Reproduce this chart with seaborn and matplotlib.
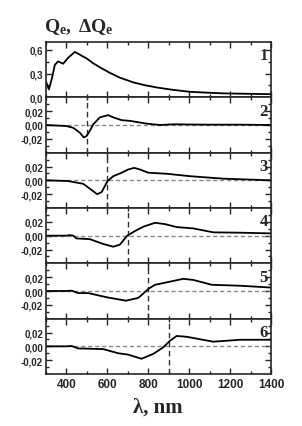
import numpy as np
import pandas as pd
import matplotlib
matplotlib.use("Agg")
import matplotlib.pyplot as plt
from matplotlib.ticker import MultipleLocator, FixedLocator, FuncFormatter
import seaborn as sns

# ---- data ----
x1 = [300, 314, 330, 343, 359, 384, 408, 441, 465, 500, 531, 570, 612, 660, 726, 780, 841, 920, 1004, 1080, 1167, 1280, 1400]
q1 = [0.20, 0.10, 0.25, 0.41, 0.455, 0.425, 0.50, 0.575, 0.54, 0.49, 0.43, 0.37, 0.31, 0.25, 0.19, 0.155, 0.125, 0.095, 0.07, 0.06, 0.05, 0.045, 0.04]

x2 = [300, 400, 433, 465, 485, 498, 515, 531, 563, 604, 629, 670, 710, 792, 857, 922, 1086, 1249, 1400]
d2 = [0.0, -0.0015, -0.004, -0.011, -0.018, -0.016, -0.008, 0.001, 0.011, 0.0143, 0.011, 0.007, 0.006, 0.002, 0.0, 0.001, 0.0005, 0.0005, 0.0]

x3 = [300, 408, 433, 482, 514, 550, 572, 601, 629, 670, 702, 731, 759, 800, 890, 1004, 1167, 1400]
d3 = [0.0, -0.001, -0.0024, -0.005, -0.012, -0.020, -0.017, -0.001, 0.006, 0.011, 0.0157, 0.018, 0.0157, 0.011, 0.0095, 0.006, 0.0024, 0.0]

x4 = [300, 400, 416, 433, 449, 514, 580, 629, 661, 697, 735, 776, 833, 882, 939, 1020, 1118, 1249, 1400]
d4 = [0.0, 0.0, 0.0008, 0.0, -0.004, -0.005, -0.012, -0.016, -0.013, 0.0, 0.0067, 0.013, 0.0186, 0.0167, 0.0124, 0.0105, 0.0048, 0.0043, 0.0033]

x5 = [300, 400, 425, 457, 506, 596, 691, 751, 784, 800, 833, 882, 971, 1020, 1110, 1249, 1400]
d5 = [0.0, 0.0, 0.0005, -0.003, -0.003, -0.009, -0.014, -0.010, -0.0015, 0.003, 0.009, 0.012, 0.0176, 0.016, 0.009, 0.0076, 0.005]

x6 = [300, 400, 425, 457, 580, 653, 702, 767, 824, 873, 906, 939, 988, 1118, 1249, 1400]
d6 = [0.0, 0.0, 0.0005, -0.003, -0.004, -0.010, -0.012, -0.018, -0.011, -0.0015, 0.008, 0.015, 0.0138, 0.0067, 0.0095, 0.0095]

marks = [None, 500, 600, 700, 800, 900]
labels = ["1", "2", "3", "4", "5", "6"]
xs = [x1, x2, x3, x4, x5, x6]
ys = [q1, d2, d3, d4, d5, d6]
yticks_top = [0.0, 0.3, 0.6]
yticks_diff = [-0.02, 0.0, 0.02]
xticks = [400, 600, 800, 1000, 1200, 1400]

# ---- style ----
sns.set_style("ticks")
plt.rcParams['font.family'] = ['Liberation Sans', 'DejaVu Sans']
plt.rcParams['mathtext.fontset'] = 'custom'
plt.rcParams['mathtext.rm'] = 'Liberation Serif'
plt.rcParams['mathtext.bf'] = 'Liberation Serif:bold'
plt.rcParams['mathtext.it'] = 'Liberation Serif:italic'

fig = plt.figure(figsize=(3.02, 4.27), dpi=100)
left, right, top, bottom = 46/302, 271/302, 1-43/427, 1-375/427
gs = fig.add_gridspec(6, 1, left=left, right=right, top=top, bottom=bottom, hspace=0)
axes = [fig.add_subplot(gs[i]) for i in range(6)]

for i, ax in enumerate(axes):
    df = pd.DataFrame({"x": xs[i], "y": ys[i]})
    sns.lineplot(data=df, x="x", y="y", ax=ax, color="black", linewidth=1.3, sort=False)
    ax.set_xlim(300, 1400)
    if i == 0:
        ax.set_ylim(0, 0.7)
        ax.yaxis.set_major_locator(FixedLocator(yticks_top))
        ax.yaxis.set_minor_locator(MultipleLocator(0.15))
        ax.yaxis.set_major_formatter(FuncFormatter(lambda v, p: f"{v:.1f}".replace('.', ',')))
    else:
        ax.set_ylim(-0.04, 0.04)
        ax.yaxis.set_major_locator(FixedLocator(yticks_diff))
        ax.yaxis.set_minor_locator(FixedLocator([-0.03, -0.01, 0.01, 0.03]))
        ax.yaxis.set_major_formatter(FuncFormatter(lambda v, p: f"{v:.2f}".replace('.', ',').replace('-0,00', '0,00')))
        ax.axhline(0, color="#888888", linestyle=(0, (3, 2)), linewidth=1.0, zorder=1)
        ax.axvline(marks[i], color="#333333", linestyle=(0, (4, 2.5)), linewidth=1.0, zorder=1)
    ax.xaxis.set_major_locator(FixedLocator(xticks))
    ax.xaxis.set_minor_locator(MultipleLocator(100))
    ax.tick_params(which='both', direction='in', top=True, right=True, width=1.0)
    ax.tick_params(which='major', length=4)
    ax.tick_params(which='minor', length=2.5)
    ax.tick_params(axis='y', labelsize=7, pad=2)
    ax.tick_params(axis='x', labelsize=8.5, pad=3)
    for lab in ax.get_yticklabels() + ax.get_xticklabels():
        lab.set_fontweight('bold')
    if i < 5:
        ax.tick_params(axis='x', labelbottom=False)
    for s in ax.spines.values():
        s.set_linewidth(1.2)
    ax.set_xlabel("")
    ax.set_ylabel("")
    ax.text(0.985, 0.76, labels[i], transform=ax.transAxes, ha='right', va='center',
            fontsize=12, fontweight='bold', family='Liberation Serif')

fig.text(44/302, 1-27/427, r'$\mathbf{Q_e,\ \Delta Q_e}$', fontsize=14, ha='left', va='center')
fig.text(158/302, 1-408/427, 'λ, nm', fontsize=15, fontweight='bold', family='Liberation Serif',
         ha='center', va='center')

fig.savefig("out.png", dpi=100)
